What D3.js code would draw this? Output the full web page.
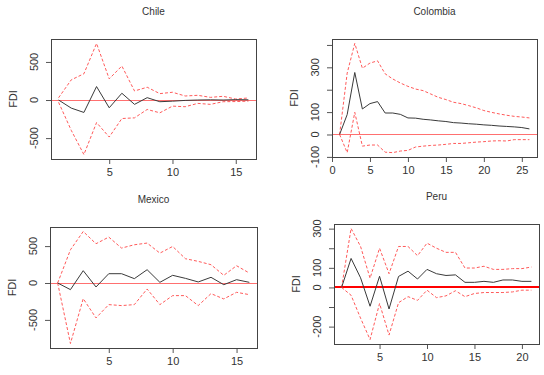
<!DOCTYPE html>
<html>
<head>
<meta charset="utf-8">
<script src="https://cdn.jsdelivr.net/npm/d3@7"></script>
<style>
  body { margin: 0; background: #fff; }
  text { font-family: "Liberation Sans", Arial, sans-serif; fill: #333; }
</style>
</head>
<body>
<div id="chart"></div>
<script>
// ---- data (impulse responses with lower / upper bands) ----
const chileResp  = [0, -106, -163, 177, -102, 89, -57, 31, -22, -15, -5, 0, 3, 0, 5, 3];
const chileUpper = [30, 265, 345, 743, 278, 447, 119, 168, 84, 102, 53, 62, 35, 49, 13, 27];
const chileLower = [-30, -398, -716, -296, -486, -243, -234, -124, -168, -80, -88, -44, -57, -22, -20, -15];

const colombiaResp  = [0, 89, 277, 114, 138, 147, 96, 96, 90, 74, 73, 68, 65, 61, 58, 53, 51, 48, 46, 43, 41, 38, 36, 34, 31, 25];
const colombiaUpper = [0, 274, 407, 296, 319, 329, 271, 248, 230, 215, 203, 196, 181, 166, 156, 144, 138, 129, 119, 107, 99, 92, 86, 81, 78, 74];
const colombiaLower = [0, -81, 99, -52, -47, -47, -79, -81, -74, -71, -56, -52, -49, -47, -44, -40, -40, -37, -34, -32, -29, -28, -29, -23, -23, -23];

const mexicoResp  = [0, -90, 167, -54, 126, 126, 59, 180, 9, 104, 63, 14, 77, -23, 45, 9];
const mexicoUpper = [0, 450, 698, 532, 622, 473, 518, 541, 405, 495, 329, 293, 248, 104, 234, 135];
const mexicoLower = [0, -820, -212, -473, -293, -306, -293, -81, -293, -171, -171, -306, -144, -216, -126, -158];

const peruResp  = [0, 148, 49, -96, 57, -110, 56, 83, 43, 92, 70, 61, 64, 26, 26, 31, 26, 38, 38, 31, 31];
const peruUpper = [0, 301, 209, 47, 200, 70, 209, 209, 162, 226, 200, 179, 179, 99, 99, 108, 92, 92, 96, 96, 104];
const peruLower = [0, -40, -157, -266, -82, -243, -78, -47, -66, -14, -52, -43, -17, -47, -31, -26, -26, -26, -23, -14, -14];

// tick marks and the labels that are printed
const chileXTicks = [5, 10, 15];
const chileYTicks = [-500, 0, 500];
const chileYLabels = [-500, 0, 500];
const colombiaXTicks = [0, 5, 10, 15, 20, 25];
const colombiaYTicks = [-100, 0, 100, 200, 300, 400];
const colombiaYLabels = [-100, 0, 100, 300];
const mexicoXTicks = [5, 10, 15];
const mexicoYTicks = [-500, 0, 500];
const mexicoYLabels = [-500, 0, 500];
const peruXTicks = [5, 10, 15, 20];
const peruYTicks = [-200, -100, 0, 100, 200, 300];
const peruYLabels = [-200, 0, 100, 300];

const panels = [
  { title: "Chile", resp: chileResp, upper: chileUpper, lower: chileLower,
    xTicks: chileXTicks, yTicks: chileYTicks, yLabels: chileYLabels,
    box: { left: 51, right: 256, top: 39, bottom: 159 }, zeroBold: false },
  { title: "Colombia", resp: colombiaResp, upper: colombiaUpper, lower: colombiaLower,
    xTicks: colombiaXTicks, yTicks: colombiaYTicks, yLabels: colombiaYLabels,
    box: { left: 332, right: 537, top: 39, bottom: 157 }, zeroBold: false },
  { title: "Mexico", resp: mexicoResp, upper: mexicoUpper, lower: mexicoLower,
    xTicks: mexicoXTicks, yTicks: mexicoYTicks, yLabels: mexicoYLabels,
    box: { left: 50, right: 257, top: 227, bottom: 348 }, zeroBold: false },
  { title: "Peru", resp: peruResp, upper: peruUpper, lower: peruLower,
    xTicks: peruXTicks, yTicks: peruYTicks, yLabels: peruYLabels,
    box: { left: 334, right: 539, top: 224, bottom: 344 }, zeroBold: true },
];

const svg = d3.select("#chart").append("svg")
  .attr("width", 544)
  .attr("height", 375);

svg.append("rect").attr("width", 544).attr("height", 375).attr("fill", "#fff");

// R style 4% padding of the data range
function padded(lo, hi) {
  const p = (hi - lo) * 0.04;
  return [lo - p, hi + p];
}

panels.forEach((p) => {
  const n = p.resp.length;
  const b = p.box;
  const all = p.resp.concat(p.upper, p.lower);

  const x = d3.scaleLinear().domain(padded(1, n)).range([b.left, b.right]);
  const y = d3.scaleLinear().domain(padded(d3.min(all), d3.max(all))).range([b.bottom, b.top]);

  const g = svg.append("g");

  // title
  g.append("text")
    .attr("x", (b.left + b.right) / 2)
    .attr("y", b.top - 24)
    .attr("text-anchor", "middle")
    .style("font-size", "10px")
    .text(p.title);

  // zero line, snapped to the pixel grid
  const y0 = p.zeroBold ? Math.round(y(0)) : Math.round(y(0)) + 0.5;
  g.append("line")
    .attr("x1", b.left).attr("x2", b.right)
    .attr("y1", y0).attr("y2", y0)
    .attr("stroke", p.zeroBold ? "#ff0000" : "#ff7070")
    .attr("stroke-width", p.zeroBold ? 2 : 1);

  const line = d3.line()
    .x((d, i) => x(i + 1))
    .y((d) => y(d));

  [p.upper, p.lower].forEach((band) => {
    g.append("path")
      .datum(band)
      .attr("d", line)
      .attr("fill", "none")
      .attr("stroke", "#ff5a5a")
      .attr("stroke-width", 1)
      .attr("stroke-dasharray", "3,2");
  });

  g.append("path")
    .datum(p.resp)
    .attr("d", line)
    .attr("fill", "none")
    .attr("stroke", "#3a3a3a")
    .attr("stroke-width", 1);

  // axes
  const xAxis = g.append("g")
    .attr("transform", `translate(0,${b.bottom})`)
    .call(d3.axisBottom(x).tickValues(p.xTicks).tickSize(5).tickPadding(4).tickFormat(d3.format("d")));
  xAxis.select(".domain").remove();
  xAxis.selectAll("text").style("font-size", "11px").attr("fill", "#333");
  xAxis.selectAll("line").attr("stroke", "#555");

  const yAxis = g.append("g")
    .attr("transform", `translate(${b.left},0)`)
    .call(d3.axisLeft(y).tickValues(p.yTicks).tickSize(5).tickFormat(""));
  yAxis.select(".domain").remove();
  yAxis.selectAll("line").attr("stroke", "#555");

  g.selectAll("text.ylab")
    .data(p.yLabels)
    .join("text")
    .attr("class", "ylab")
    .attr("transform", (d) => `translate(${b.left - 17},${y(d)}) rotate(-90)`)
    .attr("text-anchor", "middle")
    .attr("dy", "0.35em")
    .style("font-size", "11px")
    .text((d) => d);

  // axis title
  g.append("text")
    .attr("transform", `translate(${b.left - 38},${(b.top + b.bottom) / 2}) rotate(-90)`)
    .attr("text-anchor", "middle")
    .attr("dy", "0.35em")
    .style("font-size", "11px")
    .text("FDI");

  // frame
  g.append("rect")
    .attr("x", b.left + 0.5).attr("y", b.top + 0.5)
    .attr("width", b.right - b.left).attr("height", b.bottom - b.top)
    .attr("fill", "none")
    .attr("stroke", "#444")
    .attr("stroke-width", 1);
});
</script>
</body>
</html>
